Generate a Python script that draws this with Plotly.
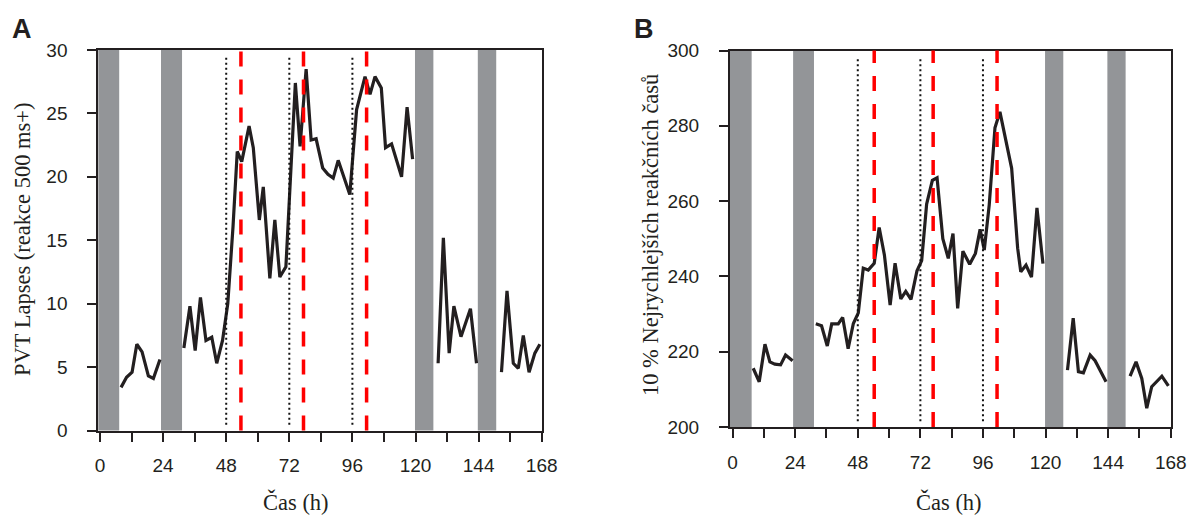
import plotly.graph_objects as go

# ---- data: panel A (PVT lapses) ----
a_hours = [8.0, 10.1, 12.2, 14.0, 16.0, 18.4, 20.3, 22.8, None,
           31.9, 34.2, 36.2, 38.2, 40.3, 42.5, 44.4, 46.6, 48.6, 50.6,
           52.2, 53.9, 56.7, 58.3, 60.6, 62.1, 64.6, 66.5, 68.4, 70.7,
           74.3, 76.1, 78.4, 80.3, 82.2, 84.7, 86.7, 88.7, 90.6, 92.5,
           95.0, 97.6, 100.8, 102.7, 104.6, 107.0, 108.6, 110.9, 114.7,
           116.8, 118.9, None,
           128.6, 130.6, 132.8, 134.6, 137.3, 140.9, 143.2, None,
           152.7, 154.8, 157.2, 159.1, 161.0, 163.2, 165.4, 167.3]
a_lapses = [3.4, 4.2, 4.6, 6.8, 6.2, 4.3, 4.1, 5.6, None,
            6.5, 9.8, 6.3, 10.5, 7.1, 7.35, 5.3, 7.1, 10.0, 16.1,
            22.0, 21.2, 24.0, 22.3, 16.6, 19.2, 12.0, 16.6, 12.1, 12.9,
            27.4, 22.4, 28.5, 22.9, 23.0, 20.7, 20.2, 19.9, 21.3, 20.1,
            18.6, 25.3, 27.9, 26.5, 27.9, 27.0, 22.3, 22.6, 20.0,
            25.5, 21.4, None,
            5.3, 15.2, 6.1, 9.8, 7.4, 9.6, 5.3, None,
            4.6, 11.0, 5.3, 4.9, 7.5, 4.6, 6.1, 6.8]

# ---- data: panel B (fastest 10 % of reaction times) ----
b_hours = [7.9, 10.2, 12.4, 14.3, 16.2, 18.4, 20.3, 23.0, None,
           31.9, 34.1, 36.3, 38.0, 40.5, 42.2, 44.3, 46.3, 48.2, 50.1,
           52.0, 54.3, 56.2, 58.2, 60.4, 62.3, 64.5, 66.4, 68.4, 70.7,
           72.5, 74.4, 76.6, 78.4, 80.6, 82.7, 84.5, 86.3, 88.3, 90.9,
           93.1, 94.9, 96.5, 98.4, 100.6, 102.5, 107.0, 109.3, 110.5,
           112.5, 114.6, 116.7, 119.0, None,
           128.4, 130.6, 132.6, 134.5, 137.1, 139.0, 143.2, None,
           152.4, 154.7, 156.9, 158.8, 160.7, 162.6, 164.6, 167.1]
b_rt = [215.6, 212.0, 222.0, 217.3, 216.7, 216.5, 219.1, 217.6, None,
        227.4, 226.9, 221.5, 227.4, 227.4, 229.1, 220.8, 227.5, 230.3, 242.2,
        241.7, 243.5, 253.0, 245.7, 232.4, 243.5, 234.0, 236.0, 233.9, 241.5,
        244.2, 259.2, 265.5, 266.2, 250.0, 244.8, 251.4, 231.5, 246.7, 243.2,
        246.1, 252.5, 247.0, 259.0, 279.5, 283.7, 268.7, 247.5, 241.2,
        243.0, 239.8, 258.2, 243.4, None,
        215.1, 228.9, 214.7, 214.4, 219.1, 217.6, 212.0, None,
        213.5, 217.3, 212.9, 205.0, 210.7, 212.2, 213.5, 210.9]

# sleep periods (shaded), midnights (dotted), markers (red dashed)
sleep_start = [-1.0, 23.2, 119.8, 143.7]
sleep_end = [7.3, 31.2, 126.8, 150.7]
midnights = [48, 72, 96]
a_markers = [53.6, 77.4, 101.4]
b_markers = [54.3, 76.9, 101.4]

x_ticks = list(range(0, 169, 12))
x_ticktext = [str(v) if v % 24 == 0 else "" for v in x_ticks]
a_yticks = [0, 5, 10, 15, 20, 25, 30]
b_yticks = [200, 220, 240, 260, 280, 300]

W, H = 1192, 515
LINE = "#231f20"
GRAY = "#939598"

def px(x):
    return x / W

def py(y):
    return 1 - y / H

fig = go.Figure()
fig.add_trace(go.Scatter(x=a_hours, y=a_lapses, mode="lines",
                         line=dict(color=LINE, width=3.2), connectgaps=False,
                         xaxis="x", yaxis="y", showlegend=False))
fig.add_trace(go.Scatter(x=b_hours, y=b_rt, mode="lines",
                         line=dict(color=LINE, width=3.2), connectgaps=False,
                         xaxis="x2", yaxis="y2", showlegend=False))

shapes = []
for xr, yr, markers in (("x", "y", a_markers), ("x2", "y2", b_markers)):
    for s, e in zip(sleep_start, sleep_end):
        shapes.append(dict(type="rect", xref=xr, yref=f"{yr} domain",
                           x0=s, x1=e, y0=0, y1=1, fillcolor=GRAY,
                           line=dict(width=0), layer="below"))
    for m in midnights:
        shapes.append(dict(type="line", xref=xr, yref=f"{yr} domain",
                           x0=m, x1=m, y0=0.015, y1=0.985,
                           line=dict(color="#111111", width=2, dash="2px,3px")))
    for m in markers:
        shapes.append(dict(type="line", xref=xr, yref=f"{yr} domain",
                           x0=m, x1=m, y0=0, y1=1,
                           line=dict(color="#ff0000", width=3.5, dash="15px,13px")))

tick_font = dict(family="Liberation Sans, Arial, sans-serif", size=19, color="#231f20")
axis_common = dict(showline=True, linecolor="#231f20", linewidth=2, mirror=True,
                   ticks="outside", ticklen=9, tickwidth=2, tickcolor="#231f20",
                   showgrid=False, zeroline=False, tickfont=tick_font,
                   automargin=False)

fig.update_layout(
    width=W, height=H,
    margin=dict(l=0, r=0, t=0, b=0, autoexpand=False),
    paper_bgcolor="white", plot_bgcolor="white",
    shapes=shapes,
    xaxis=dict(domain=[px(98.3), px(541.7)], range=[-0.65, 168],
               tickvals=x_ticks, ticktext=x_ticktext, anchor="y",
               ticklabelstandoff=8, **axis_common),
    yaxis=dict(domain=[py(430.5), py(50)], range=[0, 30], tickvals=a_yticks,
               anchor="x", ticklabelstandoff=16, **axis_common),
    xaxis2=dict(domain=[px(730), px(1171)], range=[-1.0, 168.1],
                tickvals=x_ticks, ticktext=x_ticktext, anchor="y2",
                ticklabelstandoff=8, **axis_common),
    yaxis2=dict(domain=[py(427), py(50.5)], range=[200, 300], tickvals=b_yticks,
                anchor="x2", ticklabelstandoff=16, **axis_common),
)

serif = dict(family="Liberation Serif, Times New Roman, serif", size=22.5, color="#231f20")
bold = dict(family="Liberation Sans, Arial, sans-serif", size=27, color="#231f20")
annotations = [
    dict(text="<b>A</b>", x=px(22), y=py(29), font=bold),
    dict(text="<b>B</b>", x=px(644), y=py(29), font=bold),
    dict(text="Čas (h)", x=px(296), y=py(502), font=serif),
    dict(text="Čas (h)", x=px(949), y=py(502), font=serif),
    dict(text="PVT Lapses (reakce 500 ms+)", x=px(22), y=py(240),
         font=serif, textangle=-90),
    dict(text="10 % Nejrychlejších reakčních časů", x=px(650), y=py(235),
         font=serif, textangle=-90),
]
for a in annotations:
    a.update(xref="paper", yref="paper", showarrow=False,
             xanchor="center", yanchor="middle")
fig.update_layout(annotations=annotations)

fig.write_html("out.html")
